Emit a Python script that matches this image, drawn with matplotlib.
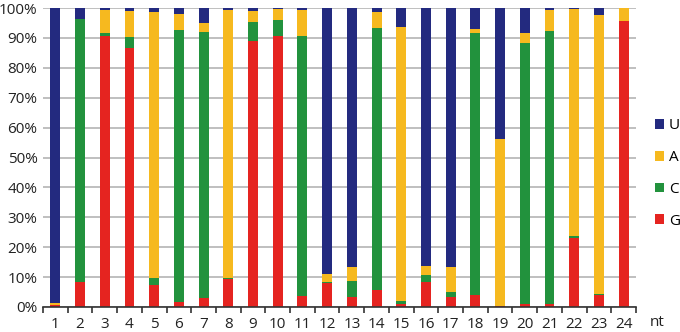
import numpy as np
import matplotlib
matplotlib.use('Agg')
import matplotlib.pyplot as plt
from matplotlib.ticker import FixedLocator, PercentFormatter

positions = [str(i) for i in range(1, 25)]
# percentages per nucleotide position (stacked bottom->top: G, C, A, U)
G = [0.8, 8.4, 90.8, 86.6, 7.5, 1.7, 3.1, 9.3, 88.8, 90.8, 3.6, 8.0,
     3.4, 5.6, 1.1, 8.4, 3.4, 4.1, 0.2, 1.1, 1.1, 23.2, 4.1, 95.5]
C = [0.0, 88.0, 1.0, 3.7, 2.2, 91.0, 89.0, 0.4, 6.4, 5.3, 87.1, 0.3,
     5.3, 87.6, 0.9, 2.4, 1.6, 87.5, 0.0, 87.2, 91.1, 0.5, 0.2, 0.0]
A = [0.5, 0.0, 7.6, 8.6, 89.1, 5.3, 2.9, 89.7, 3.7, 3.6, 8.7, 2.9,
     4.7, 5.3, 91.5, 2.8, 8.4, 1.5, 55.9, 3.3, 7.0, 76.0, 93.5, 4.5]
U = [98.7, 3.6, 0.6, 1.1, 1.2, 2.0, 5.0, 0.6, 1.1, 0.3, 0.6, 88.8,
     86.6, 1.5, 6.5, 86.4, 86.6, 6.9, 43.9, 8.4, 0.8, 0.3, 2.2, 0.0]

colors = {'G': '#e52420', 'C': '#22923d', 'A': '#f6b91f', 'U': '#232a7f'}

plt.rcParams['font.family'] = ['Open Sans', 'DejaVu Sans']
fig = plt.figure(figsize=(6.8, 3.32), dpi=100)
ax = fig.add_axes([43 / 680, 25 / 332, 593 / 680, 299 / 332])

x = np.arange(1, 25)
bottom = np.zeros(24)
handles = {}
for name, vals in [('G', G), ('C', C), ('A', A), ('U', U)]:
    vals = np.array(vals)
    handles[name] = ax.bar(x, vals, 0.4, bottom=bottom, color=colors[name],
                           linewidth=0, label=name, zorder=3)
    bottom += vals

ax.set_xlim(0.5, 24.5)
ax.set_ylim(0, 100)
ax.yaxis.set_major_locator(FixedLocator(np.arange(0, 101, 10)))
ax.yaxis.set_major_formatter(PercentFormatter(decimals=0))
ax.grid(axis='y', color='#b4b4b4', linewidth=1.2, zorder=0)
for s in ['left', 'right', 'top']:
    ax.spines[s].set_visible(False)
ax.spines['bottom'].set_color('#333333')
ax.spines['bottom'].set_linewidth(1.2)
ax.spines['bottom'].set_zorder(4)
ax.tick_params(axis='y', length=0, labelsize=11, pad=4, colors='#222222')
ax.set_xticks(x)
ax.set_xticklabels(positions)
ax.set_xticks(np.arange(0.5, 25, 1), minor=True)
ax.tick_params(axis='x', which='major', length=0, labelsize=11, pad=7, colors='#222222')
ax.tick_params(axis='x', which='minor', length=4, width=1.2, color='#333333')

fig.text(650 / 680, 1 - 322 / 332, 'nt', fontsize=11, va='center', ha='left', color='#222222')

leg = ax.legend([handles[k] for k in ['U', 'A', 'C', 'G']], ['U', 'A', 'C', 'G'],
                loc='center left', bbox_to_anchor=(655 / 680, 1 - 173.5 / 332),
                bbox_transform=fig.transFigure, frameon=False,
                fontsize=11, handlelength=0.6, handleheight=0.6, handletextpad=0.3,
                labelspacing=1.1, borderaxespad=0, borderpad=0)

fig.savefig('out.png', dpi=100)
